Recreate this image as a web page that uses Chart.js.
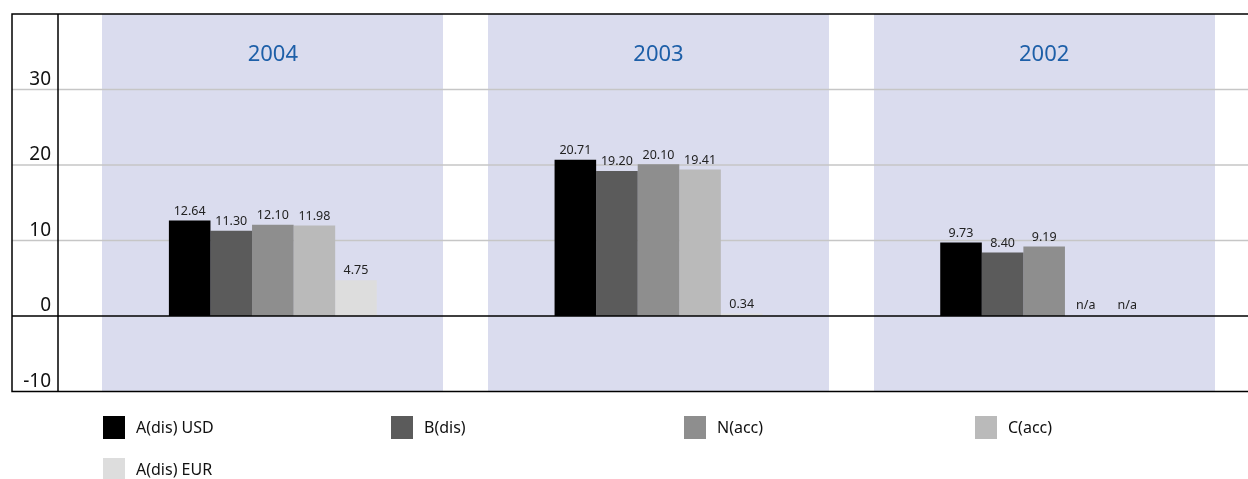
<!DOCTYPE html>
<html>
<head>
<meta charset="utf-8">
<script src="https://cdn.jsdelivr.net/npm/chart.js@4.4.0/dist/chart.umd.min.js"></script>
<style>
  body { margin: 0; background: #fff; }
  #wrap { width: 1248px; height: 479px; }
</style>
</head>
<body>
<div id="wrap"><canvas id="perfChart" width="1248" height="479"></canvas></div>
<script>
// Yearly performance per share class (%)
var years = ['2004', '2003', '2002'];
var seriesNames = ['A(dis) USD', 'B(dis)', 'N(acc)', 'C(acc)', 'A(dis) EUR'];
var aDisUsd = [12.64, 20.71, 9.73];
var bDis = [11.30, 19.20, 8.40];
var nAcc = [12.10, 20.10, 9.19];
var cAcc = [11.98, 19.41, null];
var aDisEur = [4.75, 0.34, null];
var yTicks = [-10, 0, 10, 20, 30];

var seriesColors = ['#000000', '#5b5b5b', '#8e8e8e', '#bababa', '#dddddd'];
var seriesData = [aDisUsd, bDis, nAcc, cAcc, aDisEur];

var FONT = '"Noto Sans", "DejaVu Sans", sans-serif';
var GROUP_PCT = 0.539;   // share of a year slot taken by the five bars
var BAND_PCT = 0.884;    // share of a year slot covered by the lavender band

var frameLeft = 12, axisX = 58;

// Background bands, gridlines, frame and year titles
var framePlugin = {
    id: 'frame',
    beforeDatasetsDraw: function(chart) {
        var ctx = chart.ctx, area = chart.chartArea;
        var xs = chart.scales.x, ys = chart.scales.y;
        var slot = (area.right - area.left) / years.length;
        var right = chart.width;
        ctx.save();
        // lavender bands
        ctx.fillStyle = '#dadcee';
        years.forEach(function(y, i) {
            var cx = xs.getPixelForValue(i);
            ctx.fillRect(Math.round(cx - slot * BAND_PCT / 2), area.top, Math.round(slot * BAND_PCT), area.bottom - area.top);
        });
        // gray gridlines
        ctx.strokeStyle = '#c6c6c6';
        ctx.lineWidth = 1.5;
        yTicks.forEach(function(t) {
            if (t <= 0) return;
            var py = ys.getPixelForValue(t);
            ctx.beginPath();
            ctx.moveTo(frameLeft, py);
            ctx.lineTo(right, py);
            ctx.stroke();
        });
        // year titles
        ctx.fillStyle = '#1d5fa8';
        ctx.font = '22px ' + FONT;
        ctx.textAlign = 'center';
        ctx.textBaseline = 'middle';
        years.forEach(function(y, i) {
            ctx.fillText(y, xs.getPixelForValue(i), 55);
        });
        // y tick labels
        ctx.fillStyle = '#111';
        ctx.font = '19px ' + FONT;
        ctx.textAlign = 'right';
        ctx.textBaseline = 'alphabetic';
        yTicks.forEach(function(t) {
            ctx.fillText(String(t), 51, ys.getPixelForValue(t) - 5);
        });
        ctx.restore();
    },
    afterDatasetsDraw: function(chart) {
        var ctx = chart.ctx, area = chart.chartArea;
        var ys = chart.scales.y;
        var right = chart.width;
        ctx.save();
        ctx.strokeStyle = '#000';
        ctx.lineWidth = 1.5;
        var zero = ys.getPixelForValue(0);
        ctx.beginPath();
        // outer frame: top, left, bottom
        ctx.moveTo(right, area.top);
        ctx.lineTo(frameLeft, area.top);
        ctx.lineTo(frameLeft, area.bottom);
        ctx.lineTo(right, area.bottom);
        // y axis line
        ctx.moveTo(axisX, area.top);
        ctx.lineTo(axisX, area.bottom);
        // zero line
        ctx.moveTo(frameLeft, zero);
        ctx.lineTo(right, zero);
        ctx.stroke();

        // value labels over each bar
        ctx.fillStyle = '#222';
        ctx.font = '12.5px ' + FONT;
        ctx.textAlign = 'center';
        ctx.textBaseline = 'bottom';
        chart.data.datasets.forEach(function(ds, di) {
            var meta = chart.getDatasetMeta(di);
            meta.data.forEach(function(bar, j) {
                var v = ds.data[j];
                if (v === null) {
                    ctx.fillText('n/a', bar.x, zero - 4);
                } else {
                    ctx.fillText(v.toFixed(2), bar.x, ys.getPixelForValue(v) - 3);
                }
            });
        });

        // legend in four columns
        var cols = [103, 391, 684, 975];
        var rows = [416, 458];
        ctx.font = '16px ' + FONT;
        ctx.textAlign = 'left';
        ctx.textBaseline = 'middle';
        chart.data.datasets.forEach(function(ds, i) {
            var lx = cols[i % 4], ly = rows[Math.floor(i / 4)];
            ctx.fillStyle = ds.backgroundColor;
            ctx.fillRect(lx, ly, 22, 23);
            ctx.fillStyle = '#111';
            ctx.fillText(ds.label, lx + 33, ly + 12);
        });
        ctx.restore();
    }
};

var datasets = seriesNames.map(function(name, i) {
    return {
        label: name,
        data: seriesData[i],
        backgroundColor: seriesColors[i],
        borderWidth: 0,
        barPercentage: 1,
        categoryPercentage: GROUP_PCT
    };
});

var perfChart = new Chart(document.getElementById('perfChart').getContext('2d'), {
    type: 'bar',
    data: { labels: years, datasets: datasets },
    options: {
        responsive: false,
        animation: false,
        layout: { padding: { left: 80, right: 11, top: 14, bottom: 87.5 } },
        plugins: { legend: { display: false }, tooltip: { enabled: false } },
        scales: {
            x: { display: false },
            y: { display: false, min: -10, max: 40 }
        }
    },
    plugins: [framePlugin]
});
</script>
</body>
</html>
